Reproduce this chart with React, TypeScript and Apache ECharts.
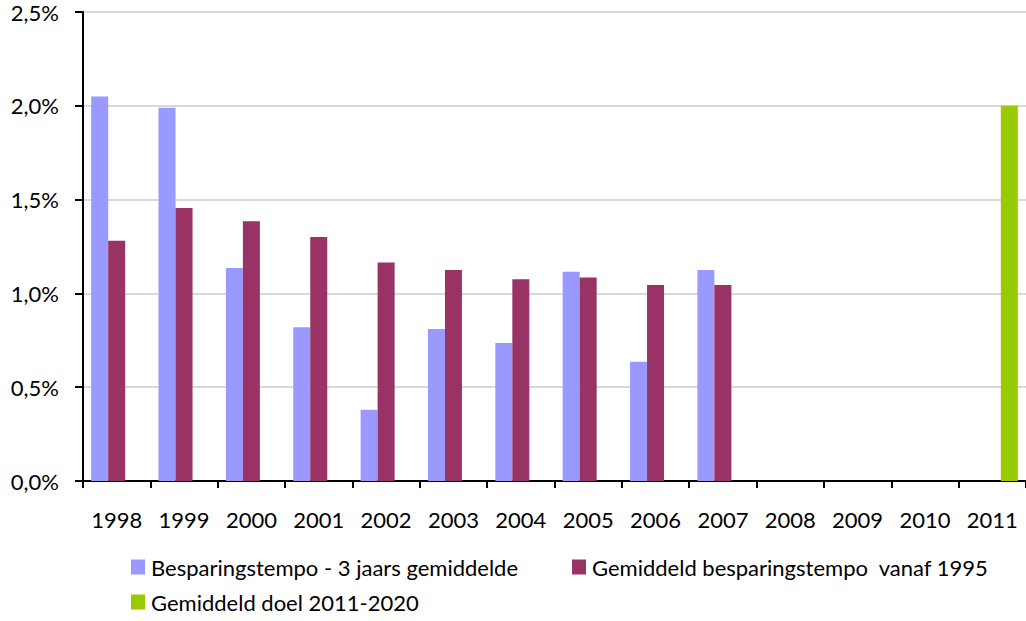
import React, { useEffect, useRef } from "react";
import * as echarts from "echarts";

const years = ["1998", "1999", "2000", "2001", "2002", "2003", "2004", "2005", "2006", "2007", "2008", "2009", "2010", "2011"];
const tempo3jaars = [2.05, 1.99, 1.135, 0.82, 0.38, 0.81, 0.735, 1.115, 0.635, 1.125, null, null, null, null];
const gemiddeldVanaf1995 = [1.28, 1.455, 1.385, 1.3, 1.165, 1.125, 1.075, 1.085, 1.045, 1.045, null, null, null, null];
const doel20112020 = [null, null, null, null, null, null, null, null, null, null, null, null, null, 2.0];

const seriesNames = [
  "Besparingstempo - 3 jaars gemiddelde",
  "Gemiddeld besparingstempo  vanaf 1995",
  "Gemiddeld doel 2011-2020",
];
const colors = ["#9999FF", "#993366", "#99CC00"];

export default function App() {
  const ref = useRef<HTMLDivElement>(null);
  useEffect(() => {
    document.body.style.margin = "0";
    const chart = echarts.init(ref.current!, null, { renderer: "svg" });
    const font = "Lato, 'Open Sans', sans-serif";
    const fs = 22;
    const legendBase = {
      icon: "rect",
      itemWidth: 14,
      itemHeight: 15,
      itemGap: 6,
      textStyle: { fontFamily: font, fontSize: fs, color: "#000", padding: [0, 0, 0, 1] },
      padding: 0,
    };
    chart.setOption({
      animation: false,
      backgroundColor: "#fff",
      color: colors,
      textStyle: { fontFamily: font },
      grid: { left: 83, top: 12, width: 948, height: 469, containLabel: false },
      legend: [
        { ...legendBase, data: [seriesNames[0]], left: 131, top: 556 },
        { ...legendBase, data: [seriesNames[1]], left: 572, top: 556 },
        { ...legendBase, data: [seriesNames[2]], left: 131, top: 591 },
      ],
      xAxis: {
        type: "category",
        data: years,
        axisLine: { lineStyle: { color: "#000", width: 2 } },
        axisTick: { show: true, interval: 0, length: 7, lineStyle: { color: "#000", width: 2 } },
        axisLabel: { interval: 0, hideOverlap: false, fontFamily: font, fontSize: fs, color: "#000", margin: 27 },
      },
      yAxis: {
        type: "value",
        min: 0,
        max: 2.5,
        interval: 0.5,
        axisLine: { show: true, lineStyle: { color: "#000", width: 2 } },
        axisTick: { show: true, length: 8, lineStyle: { color: "#000", width: 2 } },
        splitLine: { lineStyle: { color: "#d9d9d9", width: 2 } },
        axisLabel: {
          fontFamily: font,
          fontSize: fs,
          color: "#000",
          margin: 24,
          formatter: (v: number) => v.toFixed(1).replace(".", ",") + "%",
        },
      },
      series: [
        { name: seriesNames[0], type: "bar", data: tempo3jaars, barWidth: 17, barGap: "0%", barCategoryGap: "25%", itemStyle: { color: colors[0] } },
        { name: seriesNames[1], type: "bar", data: gemiddeldVanaf1995, barWidth: 17, barGap: "0%", barCategoryGap: "25%", itemStyle: { color: colors[1] } },
        { name: seriesNames[2], type: "bar", data: doel20112020, barWidth: 17, barGap: "0%", barCategoryGap: "25%", itemStyle: { color: colors[2] } },
      ],
    });
    return () => chart.dispose();
  }, []);
  return <div ref={ref} style={{ width: 1026, height: 621 }} />;
}
